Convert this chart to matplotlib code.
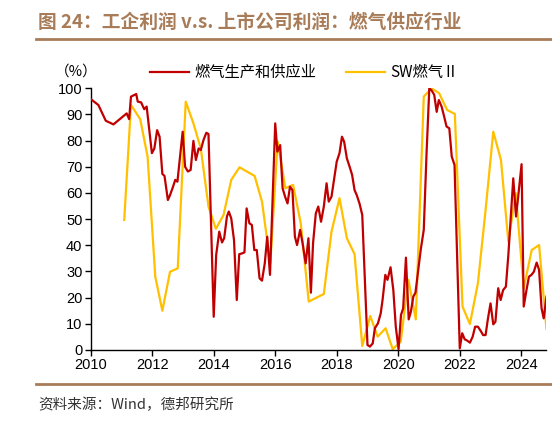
import matplotlib
matplotlib.use("Agg")
import matplotlib.pyplot as plt
from matplotlib.lines import Line2D

plt.rcParams['font.family'] = ['Liberation Sans', 'Noto Sans CJK SC', 'DejaVu Sans']
cjk = ['Noto Sans CJK SC', 'DejaVu Sans']

# 燃气生产和供应业 (monthly-ish)
red_x = [2010.0, 2010.25, 2010.49, 2010.74, 2011.17, 2011.25, 2011.31, 2011.48, 2011.53, 2011.64,
         2011.74, 2011.82, 2011.99, 2012.07, 2012.16, 2012.24, 2012.33, 2012.40, 2012.51, 2012.58,
         2012.66, 2012.75, 2012.82, 2012.99, 2013.07, 2013.16, 2013.25, 2013.34, 2013.42, 2013.51,
         2013.58, 2013.67, 2013.76, 2013.83, 2014.0, 2014.08, 2014.18, 2014.27, 2014.34, 2014.43,
         2014.49, 2014.57, 2014.66, 2014.75, 2014.83, 2014.92, 2015.0, 2015.07, 2015.16, 2015.24,
         2015.32, 2015.40, 2015.49, 2015.57, 2015.66, 2015.74, 2015.83, 2016.0, 2016.07, 2016.16,
         2016.24, 2016.32, 2016.40, 2016.48, 2016.56, 2016.64, 2016.71, 2016.81, 2016.89, 2016.99,
         2017.08, 2017.16, 2017.23, 2017.32, 2017.40, 2017.49, 2017.58, 2017.67, 2017.74, 2017.83,
         2017.91, 2018.0, 2018.09, 2018.17, 2018.24, 2018.33, 2018.42, 2018.50, 2018.58, 2018.65,
         2018.74, 2018.83, 2019.0, 2019.08, 2019.17, 2019.24, 2019.34, 2019.43, 2019.49, 2019.58,
         2019.65, 2019.75, 2019.84, 2019.92, 2020.01, 2020.09, 2020.16, 2020.25, 2020.34, 2020.41,
         2020.49, 2020.56, 2020.65, 2020.73, 2020.83, 2020.92, 2021.01, 2021.09, 2021.17, 2021.25,
         2021.32, 2021.41, 2021.48, 2021.57, 2021.66, 2021.74, 2021.83, 2022.0, 2022.08, 2022.16,
         2022.24, 2022.33, 2022.42, 2022.50, 2022.59, 2022.68, 2022.76, 2022.84, 2022.91, 2023.0,
         2023.09, 2023.16, 2023.25, 2023.33, 2023.41, 2023.50, 2023.58, 2023.66, 2023.74, 2023.83,
         2023.90, 2024.01, 2024.08, 2024.17, 2024.25, 2024.33, 2024.41, 2024.50, 2024.58, 2024.66,
         2024.73, 2024.82]
red_y = [95.9, 93.6, 87.6, 86.2, 90.4, 88.2, 96.8, 97.8, 94.9, 94.6,
         92.0, 93.0, 75.2, 77.0, 84.0, 81.5, 67.3, 66.5, 57.3, 59.2,
         61.8, 65.0, 64.3, 83.4, 70.0, 68.2, 68.8, 79.9, 72.6, 77.0,
         76.4, 80.3, 83.0, 82.5, 12.7, 36.3, 45.2, 41.1, 42.7, 51.0,
         52.9, 50.3, 42.0, 19.1, 36.6, 36.9, 37.3, 54.1, 48.4, 47.8,
         38.2, 38.2, 27.4, 26.5, 33.1, 43.3, 28.7, 86.6, 75.8, 78.3,
         61.8, 58.6, 56.0, 62.4, 61.1, 43.3, 40.1, 45.9, 40.8, 33.1,
         42.7, 21.9, 40.8, 52.2, 54.8, 49.0, 54.8, 63.7, 56.7, 58.6,
         65.0, 72.0, 75.2, 81.5, 79.6, 73.2, 70.0, 66.9, 61.1, 59.2,
         56.0, 51.6, 1.9, 1.3, 2.5, 8.3, 10.2, 14.0, 19.1, 28.7,
         26.8, 31.6, 22.9, 8.9, 0.3, 13.4, 15.9, 35.3, 11.7, 14.6,
         20.4, 21.9, 30.6, 38.2, 45.9, 75.0, 100.0, 99.1, 97.5, 91.0,
         95.5, 93.0, 89.8, 85.4, 84.7, 73.9, 70.7, 0.6, 6.4, 4.1,
         3.6, 2.8, 5.1, 8.9, 8.9, 7.3, 5.7, 5.7, 11.5, 17.8,
         9.8, 10.8, 23.6, 19.1, 22.9, 24.2, 36.3, 51.0, 65.6, 51.0,
         58.6, 71.0, 16.6, 22.9, 28.0, 28.7, 29.9, 33.4, 30.6, 15.9,
         12.1, 20.4]

# SW燃气Ⅱ (quarterly)
yel_x = [2011.09, 2011.31, 2011.61, 2011.85, 2012.10, 2012.33, 2012.58, 2012.83, 2013.09, 2013.34,
         2013.58, 2013.83, 2014.07, 2014.32, 2014.57, 2014.84, 2015.33, 2015.57, 2015.84, 2016.08,
         2016.33, 2016.58, 2016.83, 2017.09, 2017.58, 2017.83, 2018.09, 2018.33, 2018.58, 2018.83,
         2019.09, 2019.33, 2019.59, 2019.82, 2020.08, 2020.33, 2020.57, 2020.83, 2021.08, 2021.33,
         2021.59, 2021.84, 2022.09, 2022.33, 2022.59, 2022.84, 2023.09, 2023.34, 2023.58, 2023.82,
         2024.08, 2024.34, 2024.58, 2024.82]
yel_y = [49.7, 93.6, 88.2, 73.9, 28.0, 15.0, 29.9, 31.2, 94.9, 86.6,
         77.0, 54.8, 46.3, 51.6, 65.0, 69.8, 66.5, 56.7, 33.1, 79.6,
         61.8, 63.1, 48.4, 18.5, 21.4, 45.2, 58.0, 42.7, 36.6, 1.5,
         13.0, 5.1, 8.3, 0.3, 3.2, 26.8, 11.7, 96.8, 100.0, 98.1,
         91.7, 90.2, 16.6, 9.9, 25.5, 53.5, 83.4, 72.6, 41.4, 59.9,
         23.6, 38.2, 40.1, 8.0]

red_c = '#C00000'
yel_c = '#FFC000'
brown = '#A87C58'

fig = plt.figure(figsize=(5.52, 4.23), dpi=100)
ax = fig.add_axes([0.1643, 0.1726, 0.990 - 0.1643, 0.7913 - 0.1726])

ax.plot(red_x, red_y, color=red_c, lw=1.6, zorder=3)
ax.plot(yel_x, yel_y, color=yel_c, lw=1.6, zorder=2)

ax.set_xlim(2010, 2024.82)
ax.set_ylim(0, 100)
ax.set_xticks(range(2010, 2025, 2))
ax.set_yticks(range(0, 101, 10))
ax.tick_params(labelsize=10.5, length=4, width=1, direction='out', pad=2, colors='black')
for s in ['top', 'right']:
    ax.spines[s].set_visible(False)
for s in ['left', 'bottom']:
    ax.spines[s].set_linewidth(1)

# header / footer
fig.text(38 / 552, 1 - 22 / 423, '图 24：工企利润 v.s. 上市公司利润：燃气供应行业',
         fontsize=13.5, fontweight='bold', color=brown, va='center', ha='left', family=cjk)
fig.add_artist(Line2D([36 / 552, 1.0], [1 - 39.5 / 423] * 2, color=brown, lw=2))
fig.add_artist(Line2D([36 / 552, 1.0], [1 - 384 / 423] * 2, color=brown, lw=2))
fig.text(38 / 552, 1 - 405 / 423, '资料来源：Wind，德邦研究所', fontsize=10.5,
         color='#333333', va='center', ha='left', family=cjk)

# unit and legend row
fig.text(76 / 552, 1 - 72 / 423, '（%）', fontsize=10.5, va='center', ha='center', family=cjk)
fig.add_artist(Line2D([150 / 552, 189 / 552], [1 - 72 / 423] * 2, color=red_c, lw=1.6))
fig.text(194 / 552, 1 - 72 / 423, '燃气生产和供应业', fontsize=11, va='center', ha='left', family=cjk)
fig.add_artist(Line2D([346 / 552, 385 / 552], [1 - 72 / 423] * 2, color=yel_c, lw=1.6))
fig.text(390 / 552, 1 - 72 / 423, 'SW燃气Ⅱ', fontsize=11, va='center', ha='left', family=cjk)

fig.savefig('out.png', dpi=100)
